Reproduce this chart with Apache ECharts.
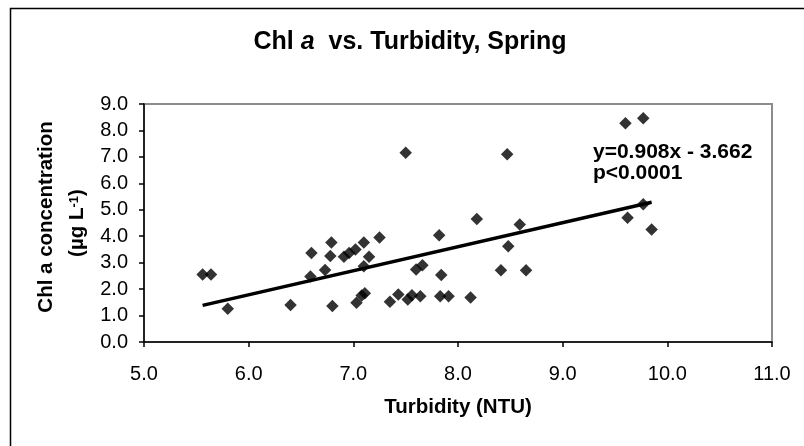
<!DOCTYPE html>
<html>
<head>
<meta charset="utf-8">
<script src="https://cdn.jsdelivr.net/npm/echarts@6/dist/echarts.min.js"></script>
<style>
  html, body { margin: 0; padding: 0; background: #fff; }
  #chart { width: 804px; height: 446px; }
</style>
</head>
<body>
<div id="chart"></div>
<script>
// Turbidity (NTU) of each sample
const turbidity = [
  5.56, 5.64, 5.80, 6.40, 6.59, 6.60, 6.73, 6.79, 6.78, 6.80,
  6.91, 6.96, 7.02, 7.10, 7.15, 7.10, 7.25, 7.03, 7.08, 7.11,
  7.35, 7.43, 7.50, 7.52, 7.56, 7.60, 7.64, 7.66, 7.82, 7.84,
  7.83, 7.91, 8.12, 8.18, 8.41, 8.47, 8.48, 8.59, 8.65, 9.60,
  9.77, 9.62, 9.77, 9.85
];
// Chl a concentration (µg/L) of each sample
const chlA = [
  2.55, 2.55, 1.26, 1.40, 2.48, 3.37, 2.72, 3.76, 3.25, 1.36,
  3.22, 3.37, 3.50, 3.76, 3.22, 2.86, 3.95, 1.48, 1.76, 1.84,
  1.52, 1.80, 7.16, 1.61, 1.77, 2.74, 1.73, 2.90, 4.04, 2.53,
  1.73, 1.73, 1.68, 4.65, 2.71, 7.10, 3.62, 4.44, 2.71, 8.27,
  8.46, 4.70, 5.21, 4.25
];
// Regression reported on the chart
const slope = 0.908;
const intercept = -3.662;
const pText = 'p<0.0001';
// Axis ranges / ticks
const xMin = 5, xMax = 11, xStep = 1;
const yMin = 0, yMax = 9, yStep = 1;

const points = turbidity.map((t, i) => [t, chlA[i]]);
const tMin = Math.min(...turbidity), tMax = Math.max(...turbidity);
const trend = [tMin, tMax].map(x => [x, slope * x + intercept]);
const eqText = 'y=' + slope.toFixed(3) + 'x - ' + Math.abs(intercept).toFixed(3) + '\n' + pText;

const FONT = 'Liberation Sans, Arial, sans-serif';
const chart = echarts.init(document.getElementById('chart'), null, { renderer: 'canvas' });
chart.setOption({
  animation: false,
  backgroundColor: '#fff',
  title: {
    text: '{b|Chl }{i|a}{b|  vs. Turbidity, Spring}',
    left: 410, top: 30, padding: 0, textAlign: 'center',
    textStyle: {
      rich: {
        b: { fontFamily: FONT, fontWeight: 'bold', fontSize: 25, color: '#000', lineHeight: 25 },
        i: { fontFamily: FONT, fontWeight: 'bold', fontStyle: 'italic', fontSize: 25, color: '#000', lineHeight: 25 }
      }
    }
  },
  grid: {
    left: 144, right: 32, top: 104, bottom: 104,
    show: true, borderColor: '#8c8c8c', borderWidth: 2, backgroundColor: 'transparent'
  },
  xAxis: {
    type: 'value', min: xMin, max: xMax, interval: xStep,
    name: 'Turbidity (NTU)', nameLocation: 'middle', nameGap: 55,
    nameTextStyle: { fontFamily: FONT, fontWeight: 'bold', fontSize: 20.5, color: '#000', lineHeight: 20 },
    axisLine: { show: true, onZero: false, lineStyle: { color: '#000', width: 1.5 } },
    axisTick: { show: true, length: 5, lineStyle: { color: '#000', width: 1.5 } },
    axisLabel: { margin: 22, fontFamily: FONT, fontSize: 20, color: '#000', lineHeight: 20,
      formatter: v => v.toFixed(1) },
    splitLine: { show: false }
  },
  yAxis: {
    type: 'value', min: yMin, max: yMax, interval: yStep,
    name: '{t1|Chl a concentration}\n{t|(µg L}{s|-1}{t|)}',
    nameLocation: 'middle', nameRotate: 90, nameGap: 51,
    nameTextStyle: {
      rich: {
        t1: { fontFamily: FONT, fontWeight: 'bold', fontSize: 20.5, color: '#000', lineHeight: 31, padding: [0, 0, 0, 12] },
        t: { fontFamily: FONT, fontWeight: 'bold', fontSize: 20.5, color: '#000', lineHeight: 31 },
        s: { fontFamily: FONT, fontWeight: 'bold', fontSize: 13, color: '#000', lineHeight: 31, verticalAlign: 'top', padding: [6, 0, 0, 0] }
      }
    },
    axisLine: { show: true, onZero: false, lineStyle: { color: '#000', width: 1.5 } },
    axisTick: { show: true, length: 5, lineStyle: { color: '#000', width: 1.5 } },
    axisLabel: { margin: 16, fontFamily: FONT, fontSize: 20, color: '#000',
      formatter: v => v.toFixed(1) },
    splitLine: { show: false }
  },
  graphic: [
    { type: 'rect', left: 8, top: 6, z: -1, silent: true,
      shape: { width: 900, height: 600 },
      style: { fill: 'none', stroke: '#000', lineWidth: 1.5 } },
    { type: 'text', left: 593, top: 142, z: 10,
      style: { text: eqText, font: 'bold 21px ' + FONT, fill: '#000', lineHeight: 21 } }
  ],
  series: [
    { type: 'line', data: trend, showSymbol: false, symbol: 'none', z: 2,
      lineStyle: { color: '#000', width: 3.5 }, silent: true },
    { type: 'scatter', data: points, symbol: 'diamond', symbolSize: 12.5, z: 3,
      itemStyle: { color: '#000' } }
  ]
});
</script>
</body>
</html>
